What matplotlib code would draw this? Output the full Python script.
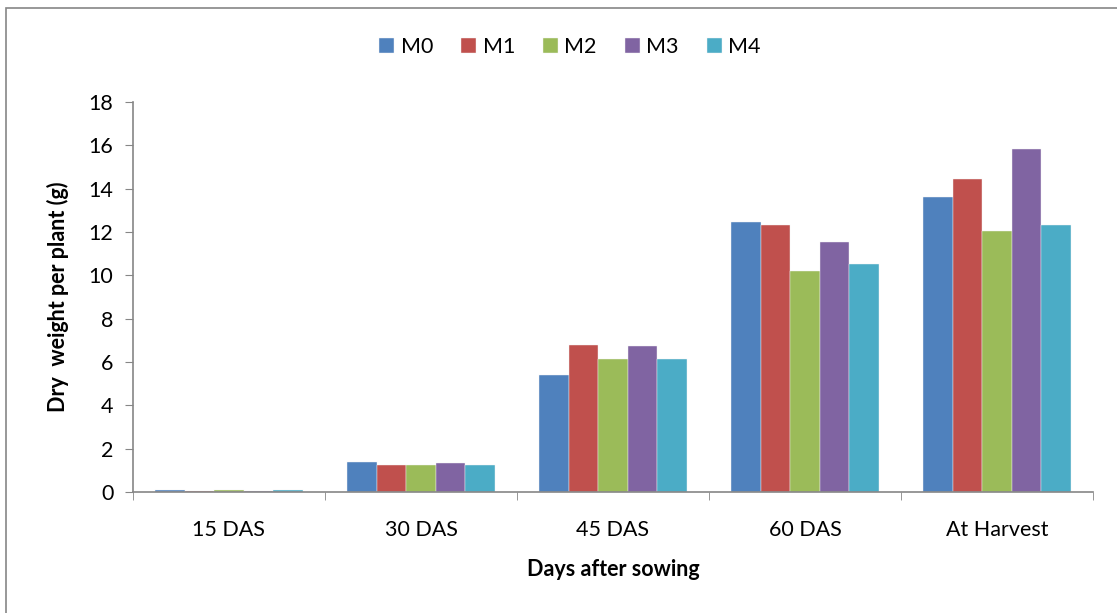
import numpy as np
import matplotlib.pyplot as plt
from matplotlib.patches import Rectangle

categories = ['15 DAS', '30 DAS', '45 DAS', '60 DAS', 'At Harvest']
series = ['M0', 'M1', 'M2', 'M3', 'M4']
m0 = [0.08, 1.37, 5.40, 12.47, 13.60]
m1 = [0.06, 1.23, 6.78, 12.32, 14.46]
m2 = [0.07, 1.23, 6.15, 10.20, 12.04]
m3 = [0.06, 1.34, 6.75, 11.54, 15.81]
m4 = [0.07, 1.26, 6.12, 10.51, 12.32]
colors = ['#4F81BD', '#C0504D', '#9BBB59', '#8064A2', '#4BACC6']

plt.rcParams['font.family'] = ['Lato', 'DejaVu Sans']

fig = plt.figure(figsize=(11.17, 6.13), dpi=100)
ax = fig.add_axes([0.119, 0.1974, 0.8595, 0.6362])

# outer chart frame
fig.patches.append(Rectangle((6 / 1117, -0.05), 1.2, 1 - 8 / 613 + 0.05,
                             transform=fig.transFigure, fill=False,
                             edgecolor='#868686', linewidth=1.2))

x = np.arange(len(categories))
width = 0.154
for i, (vals, name) in enumerate(zip([m0, m1, m2, m3, m4], series)):
    ax.bar(x + (i - 2) * width, vals, width, color=colors[i], label=name,
           edgecolor='#f4f4f4', linewidth=0.3)

ax.set_xlim(-0.5, len(categories) - 0.5)
ax.set_ylim(0, 18)
ax.set_yticks(np.arange(0, 19, 2))
ax.set_xticks(x)
ax.set_xticklabels(categories)
ax.set_xticks(np.arange(-0.5, len(categories)), minor=True)
ax.tick_params(axis='x', which='major', length=0, pad=20, labelsize=15.5)
ax.tick_params(axis='x', which='minor', length=6, color='#868686', direction='out')
ax.tick_params(axis='y', length=6, color='#868686', labelsize=15.5, pad=8)

for s in ['top', 'right']:
    ax.spines[s].set_visible(False)
for s in ['left', 'bottom']:
    ax.spines[s].set_color('#868686')
    ax.spines[s].set_linewidth(1.2)

ax.set_ylabel('Dry  weight per plant (g)', fontsize=15.5, fontweight='bold', labelpad=14)
ax.set_xlabel('Days after sowing', fontsize=15.5, fontweight='bold', labelpad=14)

ax.legend(loc='center', bbox_to_anchor=(570 / 1117, 1 - 47 / 613),
          bbox_transform=fig.transFigure, ncol=5, frameon=False, fontsize=15.5,
          handlelength=0.7, handleheight=0.7, handletextpad=0.3, columnspacing=1.3)

plt.savefig('out.png', dpi=100)
